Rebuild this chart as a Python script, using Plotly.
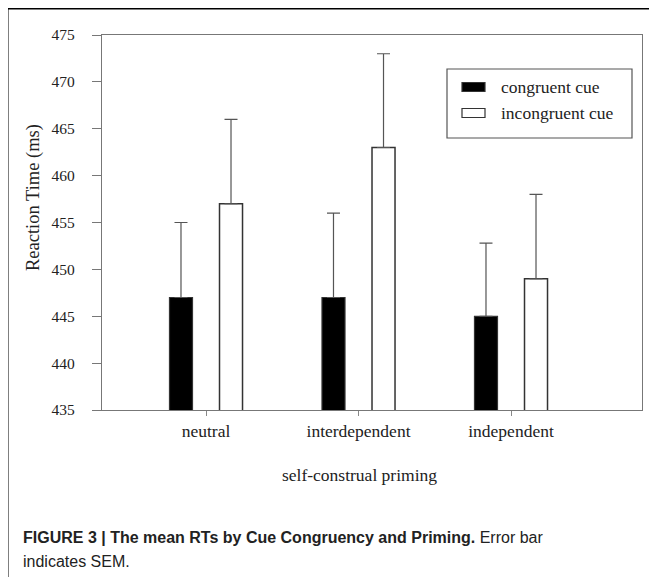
import plotly.graph_objects as go

# ---- data ----
categories = ["neutral", "interdependent", "independent"]
congruent = [447, 447, 445]
incongruent = [457, 463, 449]
congruent_sem = [8, 9, 7.8]
incongruent_sem = [9, 10, 9]
series_names = ["congruent cue", "incongruent cue"]
y_ticks = [435, 440, 445, 450, 455, 460, 465, 470, 475]

# ---- layout geometry ----
# the page body adds an 8px offset; all positions below are page pixels
OFF = 8
W, H = 657 - OFF, 577 - OFF
PLOT_L, PLOT_R, PLOT_T, PLOT_B = 102, 642, 35, 410
L = PLOT_L - OFF
T = PLOT_T - OFF
R = W - (PLOT_R - OFF)
B = H - (PLOT_B - OFF)
PW, PH = PLOT_R - PLOT_L, PLOT_B - PLOT_T


def px(x):
    return (x - PLOT_L) / PW


def py(y):
    return (PLOT_B - y) / PH


SERIF = "Liberation Serif, Times New Roman, serif"
SANS = "Liberation Sans, Arial, Helvetica, sans-serif"
TXT = "#222222"

fig = go.Figure()
fig.add_trace(go.Bar(
    x=categories, y=congruent, name=series_names[0],
    marker=dict(color="black", line=dict(color="#333333", width=1.2)),
    error_y=dict(type="data", array=congruent_sem, arrayminus=[0] * 3,
                 symmetric=False, color="#555555", thickness=1.2, width=6.5),
    showlegend=False,
))
fig.add_trace(go.Bar(
    x=categories, y=incongruent, name=series_names[1],
    marker=dict(color="white", line=dict(color="#333333", width=1.5)),
    error_y=dict(type="data", array=incongruent_sem, arrayminus=[0] * 3,
                 symmetric=False, color="#555555", thickness=1.2, width=6.5),
    showlegend=False,
))

shapes = []
annotations = []

# outer frame lines (left and top)
shapes.append(dict(type="line", xref="paper", yref="paper",
                   x0=px(7), x1=px(700), y0=py(8), y1=py(8),
                   line=dict(color="black", width=3)))
shapes.append(dict(type="line", xref="paper", yref="paper",
                   x0=px(7), x1=px(7), y0=py(7), y1=py(620),
                   line=dict(color="black", width=3)))

# manual legend
shapes.append(dict(type="rect", xref="paper", yref="paper",
                   x0=px(447), x1=px(632), y0=py(138), y1=py(69),
                   line=dict(color="#555555", width=1.2), fillcolor="white"))
legend_rows = [87, 113]
legend_fill = ["black", "white"]
for name, yc, fill in zip(series_names, legend_rows, legend_fill):
    shapes.append(dict(type="rect", xref="paper", yref="paper",
                       x0=px(462), x1=px(485), y0=py(yc + 4.5), y1=py(yc - 4.5),
                       line=dict(color="#333333", width=1.2), fillcolor=fill))
    annotations.append(dict(xref="paper", yref="paper", x=px(499), y=py(yc),
                            xanchor="left", yanchor="middle", showarrow=False,
                            text=name, font=dict(family=SERIF, size=17.5, color=TXT)))

# axis titles
annotations.append(dict(xref="paper", yref="paper", x=px(33), y=py(198),
                        textangle=-90, showarrow=False, xanchor="center", yanchor="middle",
                        text="Reaction Time (ms)", font=dict(family=SERIF, size=18.5, color=TXT)))
annotations.append(dict(xref="paper", yref="paper", x=px(359.5), y=py(475),
                        showarrow=False, xanchor="center", yanchor="middle",
                        text="self-construal priming", font=dict(family=SERIF, size=17.5, color=TXT)))

# caption
annotations.append(dict(xref="paper", yref="paper", x=px(21), y=py(537),
                        showarrow=False, xanchor="left", yanchor="middle",
                        text="<b>FIGURE 3 | The mean RTs by Cue Congruency and Priming.</b> Error bar",
                        font=dict(family=SANS, size=16, color=TXT)))
annotations.append(dict(xref="paper", yref="paper", x=px(21), y=py(561),
                        showarrow=False, xanchor="left", yanchor="middle",
                        text="indicates SEM.",
                        font=dict(family=SANS, size=16, color=TXT)))

fig.update_layout(
    width=W, height=H,
    margin=dict(l=L, r=R, t=T, b=B, pad=0),
    paper_bgcolor="white", plot_bgcolor="white",
    barmode="group", bargap=0.344, bargroupgap=0.54,
    showlegend=False,
    shapes=shapes, annotations=annotations,
    font=dict(family=SERIF, size=15, color=TXT),
)
fig.update_xaxes(
    type="category", range=[-0.682, 2.859],
    showline=True, mirror=True, linecolor="#777777", linewidth=1.2,
    ticks="outside", ticklen=5, tickcolor="#888888", tickwidth=1,
    showgrid=False, zeroline=False,
    tickfont=dict(family=SERIF, size=17.5, color=TXT),
)
fig.update_yaxes(
    range=[435, 475], tickvals=y_ticks,
    showline=True, mirror=True, linecolor="#777777", linewidth=1.2,
    ticks="outside", ticklen=9, tickcolor="#777777", tickwidth=1,
    ticklabelstandoff=14,
    showgrid=False, zeroline=False,
    tickfont=dict(family=SERIF, size=15.5, color=TXT),
)

fig.write_html("out.html")
